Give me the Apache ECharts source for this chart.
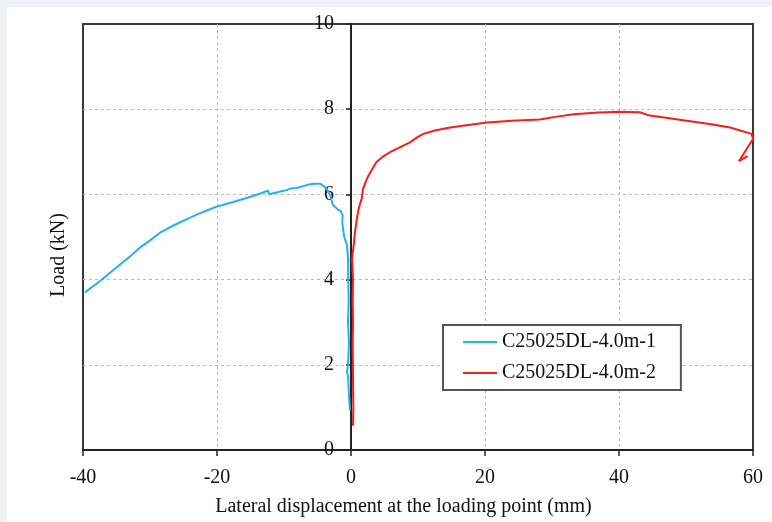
<!DOCTYPE html>
<html>
<head>
<meta charset="utf-8">
<script src="https://cdn.jsdelivr.net/npm/echarts@6/dist/echarts.min.js"></script>
<style>
    html, body { margin: 0; padding: 0; background: #eef0f3; }
    #chart { position: absolute; left: 7px; top: 7px; width: 765px; height: 515px; background: #fff; }
</style>
</head>
<body>
<div id="chart"></div>
<script>
// displacement (mm) / load (kN)
const blueName = 'C25025DL-4.0m-1';
const blueDisp = [-0.15, -0.3, -0.45, -0.6, -0.45, -0.3, -0.45, -0.35, -0.4, -0.45, -0.6, -1.0, -1.2, -1.3, -1.25, -1.5, -2.0, -2.7, -3.1, -3.5, -3.9, -4.6, -5.5, -6.1, -7.0, -8.1, -9.0, -9.6, -10.5, -11.8, -12.2, -12.4, -13.5, -15.1, -17.6, -20.1, -22.7, -24.5, -26.5, -28.5, -30, -31.5, -33, -35.2, -37.5, -39.7];
const blueLoad = [0.92, 1.3, 1.75, 1.82, 2.0, 2.5, 3.0, 3.5, 4.0, 4.5, 4.8, 5.0, 5.2, 5.35, 5.5, 5.6, 5.65, 5.75, 5.97, 6.1, 6.17, 6.25, 6.25, 6.24, 6.2, 6.15, 6.14, 6.1, 6.07, 6.02, 6.0, 6.09, 6.02, 5.94, 5.82, 5.71, 5.55, 5.42, 5.27, 5.1, 4.92, 4.75, 4.54, 4.26, 3.96, 3.7];

const redName = 'C25025DL-4.0m-2';
const redDisp = [0.3, 0.35, 0.3, 0.55, 0.3, 0.25, 0.3, 0.25, 0.3, 0.15, 0.4, 0.6, 0.8, 1.05, 1.3, 1.6, 1.8, 2.2, 2.6, 3.2, 3.8, 4.7, 5.8, 7.2, 8.8, 10.0, 10.8, 12.5, 14.8, 17.5, 20.3, 24, 28.2, 30.5, 33.2, 37, 40.1, 43.1, 44.6, 47, 50.1, 53.5, 56.6, 59.8, 60, 57.9, 59.2];
const redLoad = [0.57, 1.0, 1.6, 1.6, 1.7, 2.5, 3.0, 3.5, 4.0, 4.5, 4.8, 5.12, 5.35, 5.59, 5.75, 5.9, 6.13, 6.3, 6.44, 6.6, 6.76, 6.88, 6.99, 7.1, 7.22, 7.35, 7.42, 7.5, 7.57, 7.63, 7.69, 7.73, 7.76, 7.82, 7.88, 7.92, 7.94, 7.93, 7.85, 7.8, 7.73, 7.65, 7.57, 7.42, 7.3, 6.78, 6.9];

const xTicks = [-40, -20, 0, 20, 40, 60];
const yTicks = [0, 2, 4, 6, 8, 10];

const font = 'Liberation Serif';

function pairs(xs, ys) {
    return xs.map((x, i) => [x, ys[i]]);
}

let myChart = echarts.init(document.getElementById('chart'));

// y axis sits on x = 0, i.e. 268px inside the left frame
const gridLeft = 76, gridRight = 19;
const plotW = 765 - gridLeft - gridRight;
const yOffset = -plotW * (0 - xTicks[0]) / (xTicks[xTicks.length - 1] - xTicks[0]);

let option = {
    animation: false,
    textStyle: { fontFamily: font },
    grid: {
        left: gridLeft, right: gridRight, top: 17, bottom: 63,
        show: true,
        borderColor: '#3a3a3a',
        borderWidth: 2
    },
    legend: {
        left: 436, top: 318,
        orient: 'vertical',
        icon: 'rect',
        itemWidth: 34,
        itemHeight: 2,
        itemGap: 9,
        padding: [6, 25, 6, 20],
        backgroundColor: '#fff',
        borderColor: '#555',
        borderWidth: 2,
        borderRadius: 0,
        textStyle: { fontFamily: font, fontSize: 20, color: '#111', lineHeight: 22 },
        data: [blueName, redName]
    },
    xAxis: {
        type: 'value',
        min: xTicks[0], max: xTicks[xTicks.length - 1], interval: 20,
        name: 'Lateral displacement at the loading point (mm)',
        nameLocation: 'middle',
        nameGap: 47,
        nameTextStyle: { fontFamily: font, fontSize: 20, color: '#111', padding: [0, 29, 0, 0] },
        axisLine: { onZero: false, lineStyle: { color: '#222', width: 2 } },
        axisTick: { show: true, length: 6, lineStyle: { color: '#222', width: 1.5 } },
        axisLabel: { fontFamily: font, fontSize: 20, color: '#111', margin: 18 },
        splitLine: { show: true, showMinLine: false, showMaxLine: false, lineStyle: { color: '#bbb', type: [3, 3], width: 1 } }
    },
    yAxis: {
        type: 'value',
        position: 'left',
        offset: yOffset,
        min: yTicks[0], max: yTicks[yTicks.length - 1], interval: 2,
        axisLine: { show: true, onZero: false, lineStyle: { color: '#222', width: 2 } },
        axisTick: { show: true, length: 5, lineStyle: { color: '#222', width: 1.5 } },
        axisLabel: { fontFamily: font, fontSize: 20, color: '#111', margin: 17 },
        splitLine: { show: true, showMinLine: false, showMaxLine: false, lineStyle: { color: '#bbb', type: [3, 3], width: 1 } }
    },
    graphic: [{
        type: 'text',
        x: 52, y: 248,
        rotation: Math.PI / 2,
        style: {
            text: 'Load (kN)',
            fontFamily: font, fontSize: 20, fill: '#111',
            align: 'center', verticalAlign: 'middle'
        }
    }],
    series: [
        {
            name: blueName,
            type: 'line',
            symbol: 'none',
            color: '#1fb4ee',
            lineStyle: { width: 2 },
            data: pairs(blueDisp, blueLoad)
        },
        {
            name: redName,
            type: 'line',
            symbol: 'none',
            color: '#ff1a1a',
            lineStyle: { width: 2 },
            clip: false,
            data: pairs(redDisp, redLoad)
        }
    ]
};

myChart.setOption(option);
</script>
</body>
</html>
